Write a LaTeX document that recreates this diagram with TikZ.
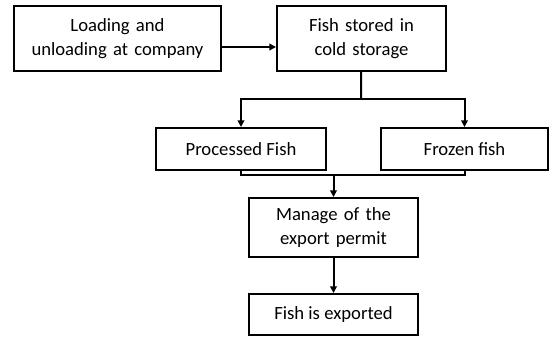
\documentclass[tikz,border=0pt]{standalone}
\usepackage{fontspec}
\setmainfont{Carlito}
\usetikzlibrary{arrows.meta, calc, positioning}

\begin{document}
\begin{tikzpicture}[
    x=0.75pt, y=-0.75pt,
    >={Triangle[length=5pt, width=5pt]},
    every node/.style={font=\fontsize{14}{17.5}\selectfont},
  ]

  % Frame
  \useasboundingbox (0,0) rectangle (549,338);

  % Box style
  \tikzset{
    stepbox/.style={draw, line width=1.5pt, align=center, inner sep=2pt},
    flowedge/.style={->, line width=1.5pt},
  }

  % Nodes
  \node[stepbox, minimum width=155.25pt, minimum height=48.75pt,
        text width=150pt] (load) at (117.5,38.5)
        {Loading and\\unloading at company};
  \node[stepbox, minimum width=126.75pt, minimum height=48.75pt,
        text width=120pt] (cold) at (361.5,38.5)
        {Fish stored in\\cold storage};
  \node[stepbox, minimum width=127.5pt, minimum height=31.5pt] (proc)
        at (241,149) {Processed Fish};
  \node[stepbox, minimum width=125.25pt, minimum height=31.5pt] (froz)
        at (464.5,149) {Frozen fish};
  \node[stepbox, minimum width=126.75pt, minimum height=44.25pt,
        text width=120pt] (perm) at (333.5,227.5)
        {Manage of the\\export permit};
  \node[stepbox, minimum width=126.75pt, minimum height=30.75pt] (expo)
        at (333.5,314.5) {Fish is exported};

  % Junction points
  \coordinate (split) at (361,99);
  \coordinate (merge) at (333.5,175);

  % Loading -> cold storage
  \draw[flowedge] ($(load.east)+(0,8.5)$) -- ($(cold.west)+(0,8.5)$);

  % Cold storage -> both kinds of fish
  \draw[line width=1.5pt] (cold) -- (split);
  \draw[flowedge] (split) -| (proc);
  \draw[flowedge] (split) -| (froz);

  % Both kinds of fish -> export permit
  \draw[line width=1.5pt] (proc) |- (merge) -| (froz);
  \draw[flowedge] (merge) -- (perm);

  % Export permit -> exported
  \draw[flowedge] (perm) -- (expo);

\end{tikzpicture}
\end{document}
